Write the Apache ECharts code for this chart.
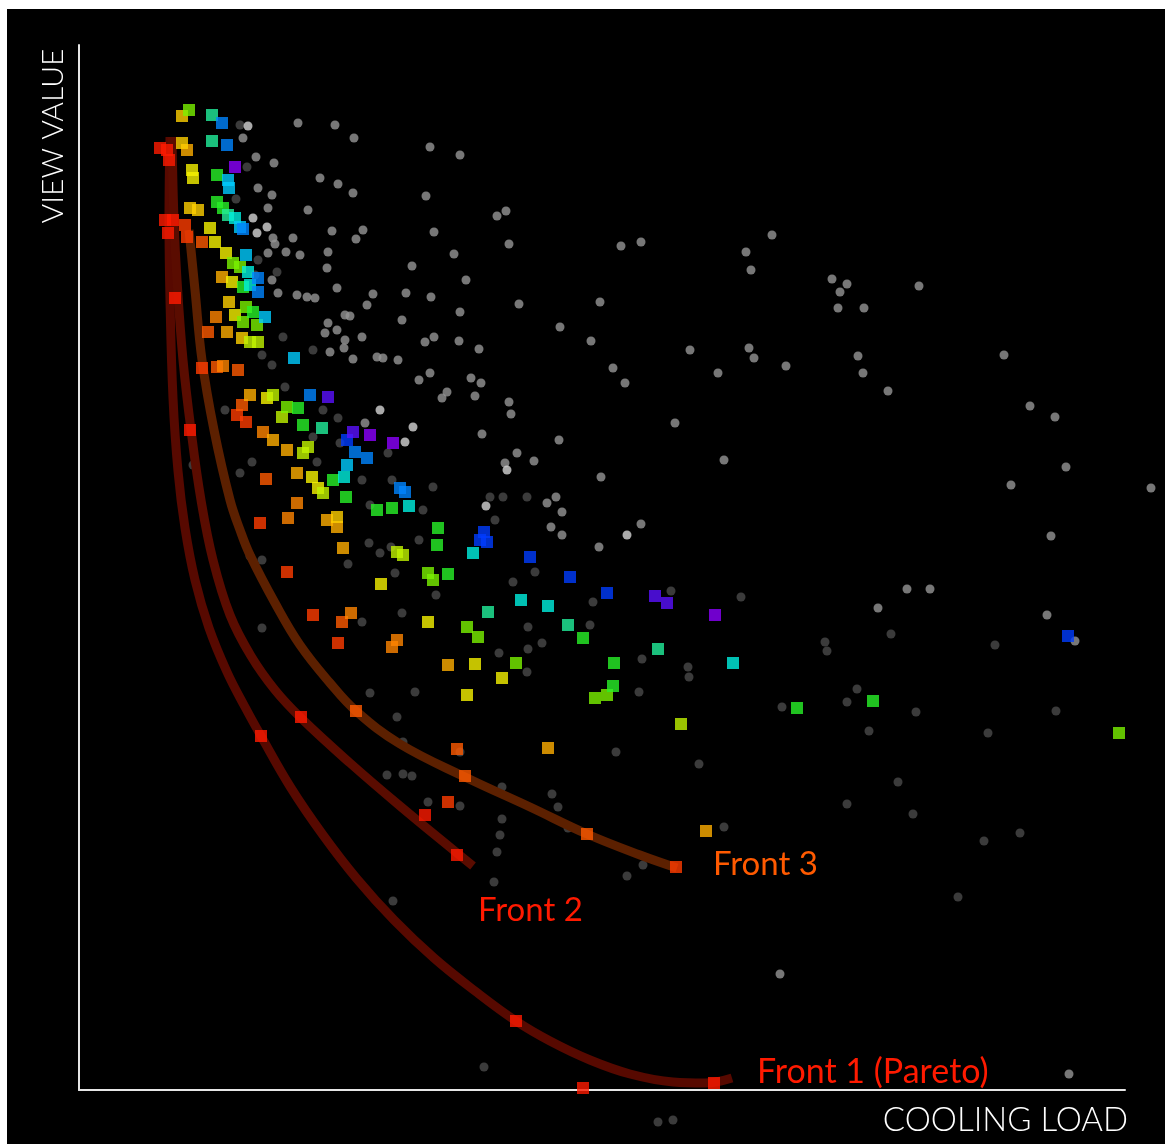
<!DOCTYPE html>
<html><head><meta charset="utf-8">
<script src="https://cdn.jsdelivr.net/npm/echarts@6/dist/echarts.min.js"></script>
<style>
html,body{margin:0;padding:0;background:#fff;width:1165px;height:1144px;overflow:hidden}
#c{position:absolute;left:7px;top:9px;width:1158px;height:1135px;background:#000}
</style>
</head><body><div id="c"></div>
<script>
// ---- background population (grey dots), [cooling load, view value] ----
const greyBright = [[174,872],[178,857],[326,648],[301,680],[334,663],[407,584],[428,620],[169,964],[188,863],[548,555]];
const greyMid = [[219,967],[256,965],[275,952],[164,952],[177,933],[195,927],[241,912],[259,906],[274,897],[179,902],[193,895],[189,882],[229,880],[194,852],[196,846],[214,852],[253,859],[284,860],[277,851],[249,838],[207,838],[189,837],[221,835],[248,822],[258,802],[294,796],[199,797],[218,795],[228,793],[236,792],[193,810],[327,797],[352,793],[288,785],[249,767],[266,775],[271,774],[323,770],[246,757],[258,760],[266,750],[265,742],[283,753],[251,738],[274,731],[298,733],[304,732],[319,730],[346,748],[355,753],[380,749],[400,741],[340,710],[351,717],[392,712],[402,707],[363,692],[368,698],[396,694],[430,688],[432,676],[286,667],[351,943],[381,935],[347,894],[418,874],[427,879],[355,858],[430,846],[375,836],[333,824],[387,810],[440,786],[381,778],[481,763],[512,749],[521,788],[542,844],[562,848],[693,855],[667,838],[672,820],[611,740],[670,742],[675,732],[534,722],[546,707],[639,717],[596,667],[645,630],[403,656],[480,650],[438,637],[455,629],[426,627],[522,613],[753,811],[768,806],[761,798],[759,782],[785,782],[840,804],[707,724],[779,734],[784,717],[809,699],[925,735],[951,684],[976,673],[987,623],[932,605],[1072,602],[972,554],[520,543],[477,593],[468,587],[483,578],[472,563],[483,555],[562,566],[828,501],[851,501],[799,482],[968,475],[996,449],[990,16],[701,116]];
const greyDim = [[161,965],[168,923],[157,891],[179,830],[176,815],[198,818],[204,753],[234,740],[183,735],[193,725],[206,703],[146,680],[259,672],[244,680],[234,653],[261,647],[309,637],[354,603],[313,610],[173,628],[114,625],[161,617],[238,628],[283,610],[291,585],[344,580],[424,593],[411,593],[448,593],[416,570],[290,547],[301,537],[269,526],[312,543],[340,550],[171,534],[183,530],[316,517],[456,518],[434,508],[357,495],[514,488],[283,468],[323,477],[449,463],[511,465],[463,447],[420,437],[449,441],[448,418],[291,397],[336,398],[318,373],[183,462],[592,499],[662,493],[812,456],[916,445],[746,448],[748,439],[563,431],[609,423],[610,413],[560,398],[778,401],[768,388],[703,383],[837,378],[977,379],[790,359],[909,357],[537,338],[620,326],[819,308],[768,286],[834,276],[645,263],[905,249],[941,257],[564,225],[548,214],[879,193],[405,23],[579,-32],[594,-30],[324,348],[308,315],[324,316],[333,314],[349,288],[381,284],[423,303],[473,296],[479,283],[423,271],[421,255],[418,238],[415,208],[314,189],[489,262],[381,338]];

// ---- ranked solutions (coloured squares), by front rank colour ----
const rankRed = [[81,942],[88,940],[90,930],[86,870],[94,870],[89,857],[96,792],[111,660],[222,373],[182,354],[346,275],[378,235],[437,69],[504,2],[635,7]];
const rankRedOrange = [[106,865],[108,853],[123,722],[158,675],[167,668],[181,567],[208,518],[234,475],[259,447],[597,223],[369,288]];
const rankOrangeRed = [[123,848],[129,758],[138,723],[159,720],[163,685],[187,611],[263,468],[277,379],[378,341],[386,314],[508,256]];
const rankOrange = [[137,773],[144,724],[184,658],[218,587],[209,572],[272,477],[318,450],[313,443]];
const rankAmber = [[108,940],[143,813],[148,758],[171,695],[194,650],[208,640],[218,617],[248,570],[258,563],[264,542],[369,425],[469,342],[627,259]];
const rankGold = [[103,974],[103,947],[111,882],[119,880],[150,788],[163,752],[258,573]];
const rankYellow = [[113,920],[114,912],[131,862],[136,848],[147,837],[153,808],[156,775],[188,692],[233,613],[239,602],[302,506],[349,468],[396,426],[423,412],[388,395]];
const rankYellowGreen = [[171,748],[179,748],[194,695],[203,673],[229,643],[224,637],[244,597],[318,538],[324,535],[602,366]];
const rankLime = [[110,980],[154,827],[161,823],[167,783],[164,768],[178,765],[208,683],[349,517],[354,510],[388,463],[399,453],[437,427],[516,392],[528,395],[1040,357]];
const rankGreen = [[138,915],[138,888],[144,882],[164,803],[174,778],[219,682],[224,665],[254,610],[267,593],[298,580],[313,582],[359,562],[358,545],[369,516],[504,452],[535,427],[534,404],[718,382],[794,389]];
const rankSpring = [[133,975],[133,949],[149,875],[243,662],[409,478],[489,465],[579,441]];
const rankAqua = [[156,872],[169,818],[171,805],[265,613],[330,584],[394,537],[442,490],[469,484],[654,427]];
const rankCyan = [[149,910],[150,902],[161,863],[167,835],[186,773],[215,732],[268,625]];
const rankAzure = [[143,967],[148,945],[164,861],[179,812],[179,798],[231,695],[276,638],[288,632],[321,602],[326,598]];
const rankBlue = [[268,650],[405,558],[408,548],[401,550],[491,513],[528,497],[989,454],[451,533]];
const rankViolet = [[249,693],[274,658],[576,494],[588,487]];
const rankPurple = [[156,923],[291,655],[314,647],[636,475]];

// ---- fitted fronts ----
const front1 = [[91,953],[90,870],[91,790],[94,692],[99,619],[106,562],[116,510],[130,462],[148,418],[166,383],[182,354],[212,302],[244,255],[278,211],[315,170],[355,132],[396,99],[437,69],[471,49],[511,30],[551,16],[594,8],[626,7],[653,12]];
const front2 = [[93,953],[95,870],[98,810],[104,730],[112,660],[122,590],[134,530],[151,475],[172,434],[196,400],[222,372],[271,327],[321,284],[378,237],[394,224]];
const front3 = [[110,860],[116,800],[123,730],[135,660],[151,590],[161,560],[171,535],[196,487],[221,445],[251,407],[277,379],[321,346],[386,313],[451,283],[508,256],[561,235],[598,222]];

const rankSets = [
  [rankRed,'#ff1a00'],[rankRedOrange,'#ff3c00'],[rankOrangeRed,'#ff5a00'],[rankOrange,'#ff8400'],
  [rankAmber,'#ffae00'],[rankGold,'#ffd000'],[rankYellow,'#f6f200'],[rankYellowGreen,'#c0f400'],
  [rankLime,'#7af200'],[rankGreen,'#28f228'],[rankSpring,'#22f09c'],[rankAqua,'#00f0e0'],
  [rankCyan,'#00ccff'],[rankAzure,'#0084ff'],[rankBlue,'#003cff'],[rankViolet,'#5a10ff'],[rankPurple,'#8c00ff']
];

const FONT = 'Lato, "Open Sans", sans-serif';
const series = [];
[[greyDim,'#4a4a4a'],[greyMid,'#959595'],[greyBright,'#d4d4d4']].forEach(([d,c])=>{
  series.push({type:'scatter',data:d,symbol:'circle',symbolSize:9,clip:false,z:1,silent:true,
    itemStyle:{color:c}});
});
[[front1,'#570900'],[front2,'#5a0c00'],[front3,'#5c2000']].forEach(([d,c])=>{
  series.push({type:'line',data:d,smooth:0.4,showSymbol:false,clip:false,z:2,silent:true,
    lineStyle:{color:c,width:9,cap:'butt'}});
});
rankSets.forEach(([d,c])=>{
  series.push({type:'scatter',data:d,symbol:'rect',symbolSize:12,clip:false,z:3,silent:true,
    itemStyle:{color:c}});
});

const chart = echarts.init(document.getElementById('c'));
chart.setOption({
  backgroundColor:'#000',
  animation:false,
  grid:{left:72,top:36,right:40,bottom:54},
  xAxis:{type:'value',min:0,max:1046,axisLine:{show:true,lineStyle:{color:'#e6e6e6',width:2}},
    axisTick:{show:false},axisLabel:{show:false},splitLine:{show:false}},
  yAxis:{type:'value',min:0,max:1045,axisLine:{show:true,lineStyle:{color:'#e6e6e6',width:2}},
    axisTick:{show:false},axisLabel:{show:false},splitLine:{show:false}},
  graphic:[
    {type:'text',x:706,y:855,z:10,style:{text:'Front 3',fill:'#ff5a00',fontSize:33,fontFamily:FONT,align:'left',verticalAlign:'middle'}},
    {type:'text',x:471,y:901,z:10,style:{text:'Front 2',fill:'#ff1a00',fontSize:33,fontFamily:FONT,align:'left',verticalAlign:'middle'}},
    {type:'text',x:750,y:1063,z:10,style:{text:'Front 1 (Pareto)',fill:'#ff1a00',fontSize:34,fontFamily:FONT,align:'left',verticalAlign:'middle'}},
    {type:'text',x:1121,y:1111,z:10,style:{text:'COOLING LOAD',fill:'#ffffff',fontSize:33,fontWeight:300,fontFamily:FONT,align:'right',verticalAlign:'middle'}},
    {type:'text',x:46,y:127,rotation:Math.PI/2,z:10,style:{text:'VIEW VALUE',fill:'#ffffff',fontSize:30,fontWeight:300,fontFamily:FONT,align:'center',verticalAlign:'middle'}}
  ],
  series:series
});
</script></body></html>
